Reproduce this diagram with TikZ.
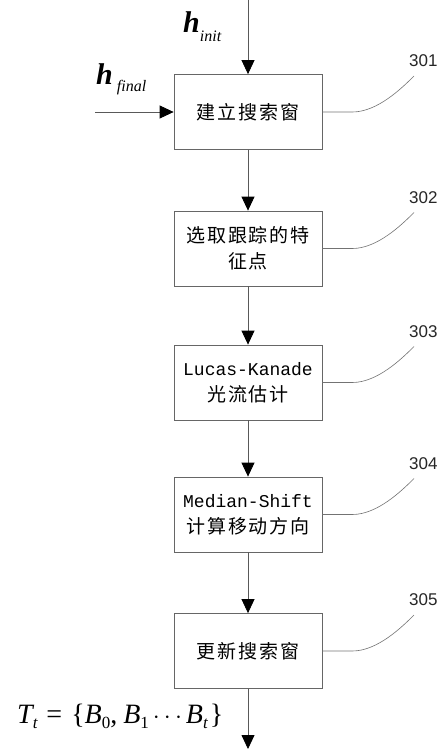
\documentclass[tikz,border=0pt]{standalone}
\usepackage{fontspec}
\setmainfont{Liberation Serif}
\newfontfamily\cjk[LetterSpace=10]{Noto Sans CJK SC}
\newfontfamily\monof{Liberation Mono}
\newfontfamily\numf{Liberation Sans}
\usetikzlibrary{arrows.meta}
% subscript helper built from text fonts
\newcommand{\lowsub}[3]{\raisebox{-#1}{\fontsize{#2}{#2}\selectfont\itshape #3}}
\begin{document}
\begin{tikzpicture}[x=1pt,y=-1pt,
  stepbox/.style={draw=black!60, line width=0.8pt, minimum width=148pt,
    minimum height=75pt, inner sep=0pt, align=center,
    font=\fontsize{19}{26}\selectfont\cjk},
  flow/.style={draw=black!65, line width=0.8pt,
    -{Triangle[length=14pt,width=13pt,color=black]}},
  leader/.style={draw=black!55, line width=0.6pt},
  refnum/.style={font=\fontsize{17}{17}\selectfont\numf, text=black!85,
    anchor=south west, inner sep=0pt}]
\useasboundingbox (0,0) rectangle (446,749);

% process steps
\node[stepbox] (s1) at (248,112) {建立搜索窗};
\node[stepbox] (s2) at (248,248.5) {选取跟踪的特\\征点};
\node[stepbox] (s3) at (248,382.5) {{\monof\fontsize{18}{26}\selectfont Lucas-Kanade}\\光流估计};
\node[stepbox] (s4) at (248,514.5) {{\monof\fontsize{18}{26}\selectfont Median-Shift}\\计算移动方向};
\node[stepbox] (s5) at (248,651) {更新搜索窗};

% inputs and output
\coordinate (in1) at (248,0);
\coordinate (in2) at (95,112);
\coordinate (out) at (248,749);
\draw[flow] (in1) -- (s1.north);
\draw[flow] (in2) -- (s1.west);
\draw[flow] (s1) -- (s2);
\draw[flow] (s2) -- (s3);
\draw[flow] (s3) -- (s4);
\draw[flow] (s4) -- (s5);
\draw[flow] (s5.south) -- (out);

% input / output labels
\node[anchor=base west, inner sep=0pt] (hinit) at (183,33)
  {\fontsize{30}{30}\selectfont\bfseries\itshape h\lowsub{9pt}{16}{\mdseries init}};
\node[anchor=base west, inner sep=0pt] (hfinal) at (96,85)
  {\fontsize{30}{30}\selectfont\bfseries\itshape h\lowsub{7pt}{16}{\mdseries\ final}};
\node[anchor=base west, inner sep=0pt] (tt) at (17,723)
  {\fontsize{28}{28}\selectfont\itshape T\lowsub{5pt}{17}{t}\upshape\hspace{9pt}=\hspace{9pt}\{\itshape B\lowsub{5pt}{17}{\upshape 0}\upshape,\hspace{6pt}\itshape B\lowsub{5pt}{17}{\upshape 1}\upshape\hspace{4pt}$\cdots$\hspace{4pt}\itshape B\lowsub{5pt}{17}{t}\upshape\hspace{2pt}\}};

% reference numerals with leader curves
\foreach \i/\y in {1/112, 2/248.5, 3/382.5, 4/514.5, 5/651}{
  \coordinate (e\i) at (414,\y-36);
  \node[refnum] (r\i) at (409,\y-45) {30\i};
  \draw[leader] (s\i.east) -- ++(30,0) .. controls ++(25,0) and ++(-12,12) .. (e\i);
}
\end{tikzpicture}
\end{document}
